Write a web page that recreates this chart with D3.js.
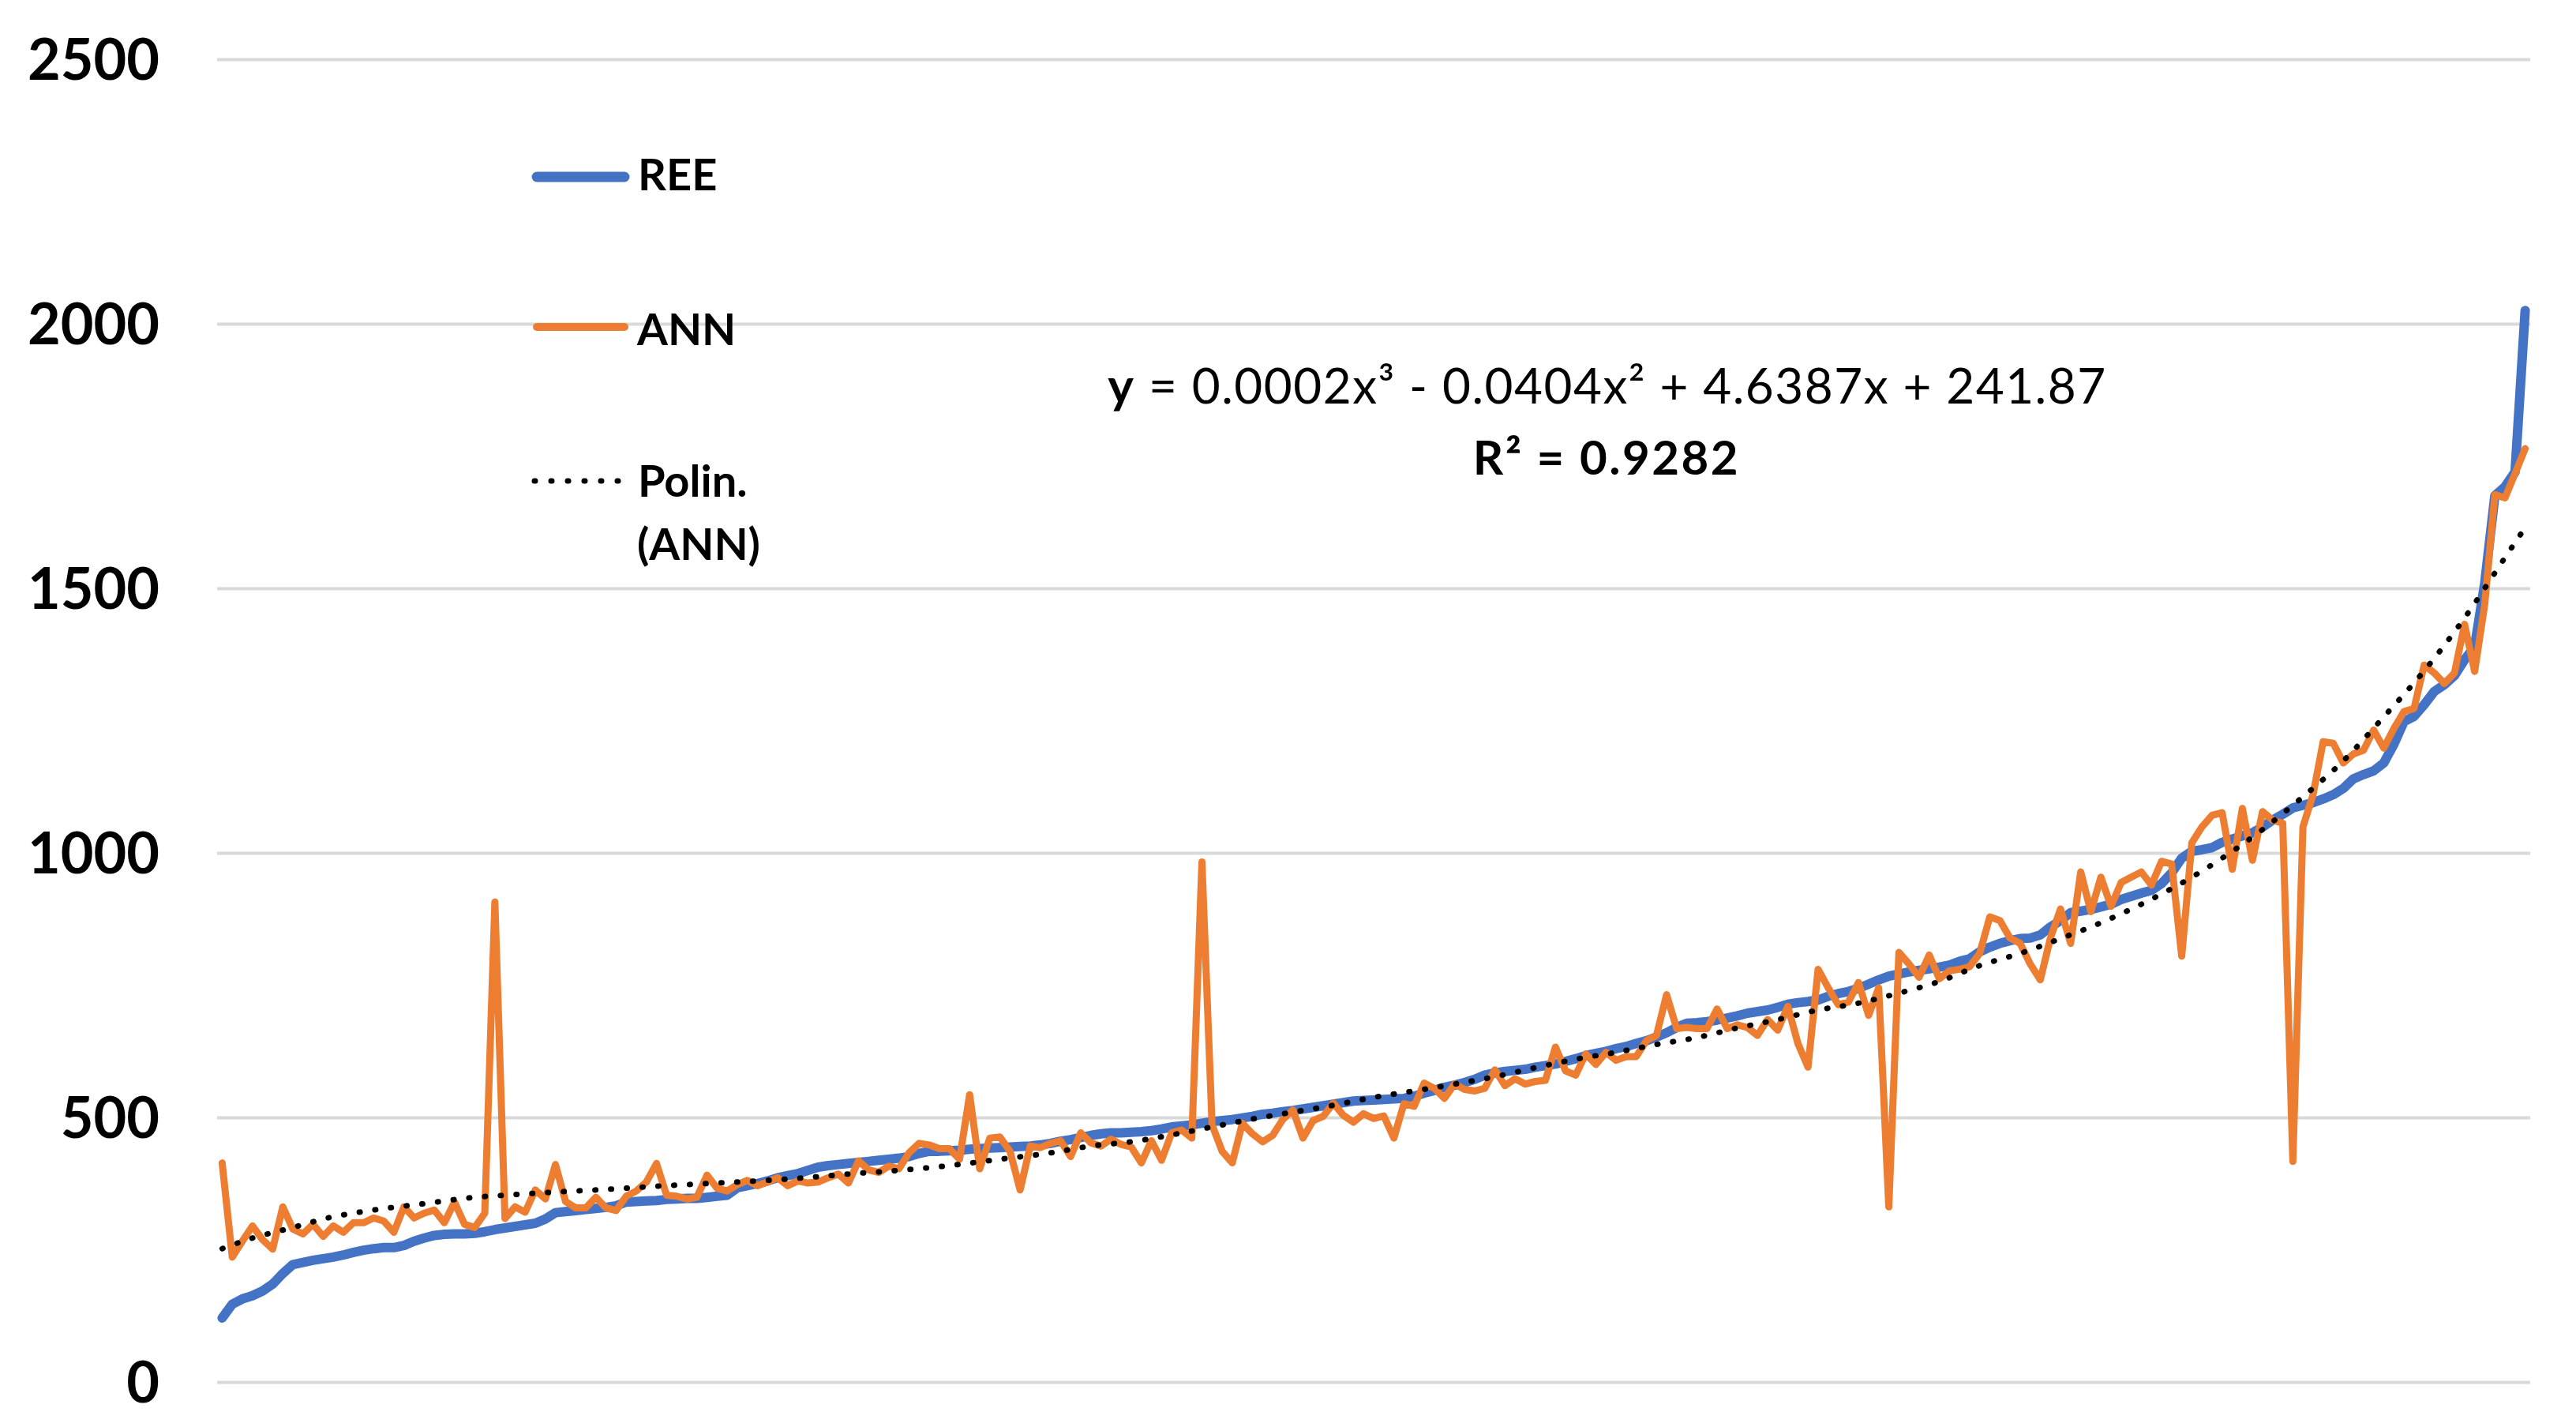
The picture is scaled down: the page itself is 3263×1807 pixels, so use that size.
<!DOCTYPE html>
<html><head><meta charset="utf-8">
<script src="https://cdn.jsdelivr.net/npm/d3@7"></script>
<style>body{margin:0;background:#fff}</style>
</head><body>
<svg id="chart" width="3263" height="1807"></svg>
<script>
// REE values (sorted), one per sample
const ree = [121,147,157,163,172,185,205,222,226,230,233,236,240,245,249,252,254,254,258,266,
272,277,279,280,280,281,284,288,291,294,297,300,308,320,322,324,326,328,330,333,
340,341,342,343,345,346,347,347,349,351,353,367,371,375,380,386,390,394,400,406,
409,411,413,415,417,419,421,423,426,432,436,436,437,438,440,441,442,443,444,445,
446,448,451,455,458,462,466,469,471,471,472,473,475,478,482,484,486,489,492,494,
496,499,502,506,508,511,513,516,519,522,525,528,531,532,533,534,535,536,540,546,
551,557,561,566,572,580,584,587,589,591,595,598,601,606,611,617,621,625,630,634,
640,645,652,660,670,678,679,681,684,688,692,697,700,703,708,714,717,719,722,729,
734,738,744,752,760,767,771,775,778,781,784,788,795,800,813,822,829,834,838,839,
845,860,872,887,890,893,898,903,912,918,924,929,942,962,990,1003,1006,1010,1020,1026,
1032,1038,1049,1062,1073,1085,1090,1095,1102,1110,1122,1140,1148,1155,1170,1205,1248,1258,1280,1305,
1318,1335,1365,1390,1510,1675,1692,1720,2025];
// ANN predictions, same order
const ann = [414,236,266,295,269,251,331,289,280,298,275,295,283,301,301,310,304,283,331,310,
319,325,301,340,298,292,319,907,309,331,321,363,346,411,341,329,329,349,329,324,
351,361,378,413,353,351,346,349,391,366,361,373,381,371,378,386,371,380,376,378,
386,393,376,418,401,396,408,403,433,451,448,441,441,421,543,403,461,463,436,363,
446,443,451,456,426,471,452,446,459,449,444,414,456,419,471,476,461,983,486,436,
414,489,469,454,466,496,514,461,494,502,527,504,491,507,498,503,461,526,521,565,
555,536,563,553,550,555,590,560,573,563,568,570,633,588,580,620,600,623,608,615,
615,645,655,732,668,670,668,668,705,668,675,670,655,685,665,710,640,595,780,745,
713,718,755,693,745,331,812,790,765,807,762,777,780,785,810,879,872,839,829,790,
760,839,894,829,964,889,954,899,944,954,964,939,984,979,805,1019,1049,1071,1076,969,
1084,986,1078,1062,1056,417,1049,1110,1210,1207,1170,1187,1194,1232,1198,1235,1267,1273,1355,1340,
1320,1340,1432,1343,1470,1677,1671,1717,1764];
// polynomial trendline of ANN (sample number -> value)
const trendIndex = [1,4,8,11,16,21,26,29,34,39,44,49,54,58,63,68,73,78,83,87,91,95,99,103,107,111,115,
119,123,127,131,135,139,143,147,151,155,159,163,167,171,175,179,183,187,191,195,199,203,207,211,215,219,223,227,229];
const trendValues = [252,272,292,308,325,337,349,353,359,364,370,375,380,385,393,400,409,421,433,446,454,467,482,497,510,523,538,
550,563,577,594,610,623,638,651,669,685,703,716,735,757,787,810,838,868,903,943,990,1044,1106,1174,1257,1344,1444,1558,1615];
const yTicks = [0, 500, 1000, 1500, 2000, 2500];
const legendNames = ["REE", "ANN", "Polin.", "(ANN)"];
const eqPrefix = "y";
const eqBody = " = 0.0002x³ - 0.0404x² + 4.6387x + 241.87";
const r2Label = "R² = 0.9282";

const BLUE = "#4472C4", ORANGE = "#ED7D31", GRID = "#D9D9D9";
const FONT = "Lato, 'Open Sans', sans-serif";

const svg = d3.select("#chart");
svg.append("rect").attr("width", 3263).attr("height", 1807).attr("fill", "#fff");

const idx = d3.range(1, ree.length + 1);
const x = d3.scalePoint().domain(idx).range([275, 3205]).padding(0.5);
const y = d3.scaleLinear().domain([0, 2500]).range([1750, 75]);

// grid + y axis
const yAxis = d3.axisLeft(y).tickValues(yTicks).tickSize(-(3205 - 275)).tickPadding(73).tickFormat(d3.format("d"));
const ga = svg.append("g").attr("transform", "translate(275,0)").call(yAxis);
ga.select(".domain").remove();
ga.selectAll(".tick line").attr("stroke", GRID).attr("stroke-width", 4);
ga.selectAll(".tick text").attr("font-family", FONT).attr("font-weight", 700)
  .attr("font-size", 72).attr("fill", "#000").attr("dy", "0.36em");

const line = d3.line().x(d => x(d[0])).y(d => y(d[1]));
const plot = svg.append("g").attr("fill", "none").attr("stroke-linejoin", "round").attr("stroke-linecap", "round");
plot.append("path").datum(idx.map((d, i) => [d, ree[i]])).attr("d", line)
  .attr("stroke", BLUE).attr("stroke-width", 12);
plot.append("path").datum(idx.map((d, i) => [d, ann[i]])).attr("d", line)
  .attr("stroke", ORANGE).attr("stroke-width", 9);
const trendLine = d3.line().x(d => x(d[0])).y(d => y(d[1])).curve(d3.curveMonotoneX);
plot.append("path").datum(trendIndex.map((d, i) => [d, trendValues[i]])).attr("d", trendLine)
  .attr("stroke", "#000").attr("stroke-width", 7).attr("stroke-dasharray", "1 19");

// legend
const lg = svg.append("g").attr("font-family", FONT).attr("font-weight", 700).attr("font-size", 56).attr("fill", "#000");
lg.append("line").attr("x1", 680).attr("x2", 791).attr("y1", 224).attr("y2", 224)
  .attr("stroke", BLUE).attr("stroke-width", 13).attr("stroke-linecap", "round");
lg.append("line").attr("x1", 680).attr("x2", 791).attr("y1", 414).attr("y2", 414)
  .attr("stroke", ORANGE).attr("stroke-width", 10).attr("stroke-linecap", "round");
lg.append("line").attr("x1", 677).attr("x2", 785).attr("y1", 609).attr("y2", 609)
  .attr("stroke", "#000").attr("stroke-width", 7).attr("stroke-linecap", "round").attr("stroke-dasharray", "1 20");
lg.append("text").attr("x", 808).attr("y", 241).text(legendNames[0]);
lg.append("text").attr("x", 807).attr("y", 437).text(legendNames[1]);
lg.append("text").attr("x", 808).attr("y", 629).text(legendNames[2]);
lg.append("text").attr("x", 807).attr("y", 709).text(legendNames[3]);

// trendline label
const eq = svg.append("text").attr("x", 2036).attr("y", 511).attr("text-anchor", "middle")
  .attr("font-family", FONT).attr("font-size", 62).attr("letter-spacing", 1.5).attr("fill", "#000");
eq.append("tspan").attr("font-weight", 700).text(eqPrefix);
eq.append("tspan").attr("font-weight", 400).text(eqBody);
svg.append("text").attr("x", 2035).attr("y", 601).attr("text-anchor", "middle")
  .attr("font-family", FONT).attr("font-size", 60).attr("font-weight", 700).attr("letter-spacing", 2.5)
  .attr("fill", "#000").text(r2Label);
</script>
</body></html>
